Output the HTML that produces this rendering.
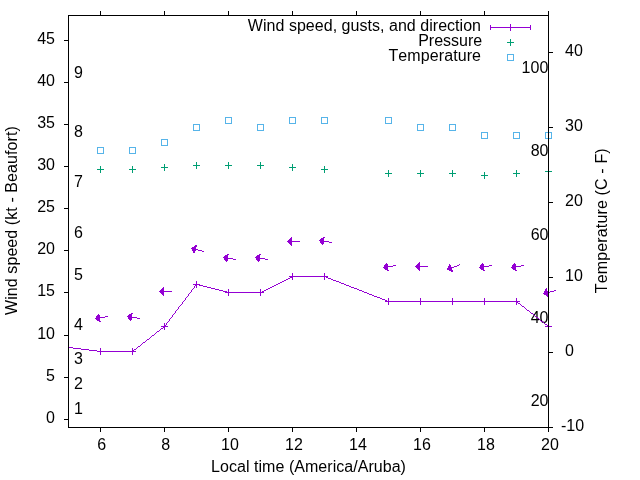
<!DOCTYPE html>
<html><head><meta charset="utf-8"><title>Wind speed, gusts, and direction</title>
<style>html,body{margin:0;padding:0;background:#fff;overflow:hidden}svg{display:block;will-change:transform}text{font-family:"Liberation Sans",Arial,sans-serif;font-size:16px;fill:#000;font-kerning:none}</style></head><body>
<svg width="640" height="480" viewBox="0 0 640 480">
<rect width="640" height="480" fill="#fff"/>
<g>
<text x="74" y="414.0">1</text>
<text x="74" y="389.0">2</text>
<text x="74" y="364.0">3</text>
<text x="74" y="330.0">4</text>
<text x="74" y="280.0">5</text>
<text x="74" y="238.0">6</text>
<text x="74" y="187.0">7</text>
<text x="74" y="137.0">8</text>
<text x="74" y="78.0">9</text>
<text x="548.5" y="405.9" text-anchor="end">20</text>
<text x="548.5" y="322.9" text-anchor="end">40</text>
<text x="548.5" y="239.9" text-anchor="end">60</text>
<text x="548.5" y="155.9" text-anchor="end">80</text>
<text x="548.3" y="72.9" text-anchor="end">100</text>
</g>
<g shape-rendering="crispEdges" fill="none" stroke-width="1">
<g stroke="#9400D3">
<path d="M68 347.5h5M73 348.5h8M81 349.5h8M89 350.5h8M97 351.5h4M100 351.5h33M132 351.5h1M133 350.5h1M134 349.5h2M136 348.5h1M137 347.5h1M138 346.5h2M140 345.5h1M141 344.5h1M142 343.5h1M143 342.5h2M145 341.5h1M146 340.5h1M147 339.5h2M149 338.5h1M150 337.5h1M151 336.5h1M152 335.5h2M154 334.5h1M155 333.5h1M156 332.5h1M157 331.5h2M159 330.5h1M160 329.5h1M161 328.5h2M163 327.5h1M164 326.5h1M164.5 326v1M165.5 325v1M166.5 323v2M167.5 322v1M168.5 321v1M169.5 319v2M170.5 318v1M171.5 317v1M172.5 315v2M173.5 314v1M174.5 313v1M175.5 311v2M176.5 310v1M177.5 309v1M178.5 307v2M179.5 306v1M180.5 305v1M181.5 304v1M182.5 302v2M183.5 301v1M184.5 300v1M185.5 298v2M186.5 297v1M187.5 296v1M188.5 294v2M189.5 293v1M190.5 292v1M191.5 290v2M192.5 289v1M193.5 288v1M194.5 286v2M195.5 285v1M196.5 284v1M196 284.5h3M199 285.5h4M203 286.5h4M207 287.5h4M211 288.5h4M215 289.5h4M219 290.5h4M223 291.5h4M227 292.5h2M228 292.5h33M260 292.5h2M262 291.5h2M264 290.5h2M266 289.5h2M268 288.5h2M270 287.5h2M272 286.5h2M274 285.5h2M276 284.5h2M278 283.5h2M280 282.5h2M282 281.5h2M284 280.5h2M286 279.5h2M288 278.5h2M290 277.5h2M292 276.5h1M292 276.5h33M324 276.5h2M326 277.5h2M328 278.5h3M331 279.5h2M333 280.5h3M336 281.5h3M339 282.5h2M341 283.5h3M344 284.5h2M346 285.5h3M349 286.5h2M351 287.5h3M354 288.5h3M357 289.5h2M359 290.5h3M362 291.5h2M364 292.5h3M367 293.5h2M369 294.5h3M372 295.5h2M374 296.5h3M377 297.5h3M380 298.5h2M382 299.5h3M385 300.5h2M387 301.5h2M388 301.5h33M420 301.5h33M452 301.5h33M484 301.5h33M516 301.5h1M517 302.5h1M518 303.5h2M520 304.5h1M521 305.5h1M522 306.5h2M524 307.5h1M525 308.5h1M526 309.5h1M527 310.5h2M529 311.5h1M530 312.5h1M531 313.5h2M533 314.5h1M534 315.5h1M535 316.5h1M536 317.5h2M538 318.5h1M539 319.5h1M540 320.5h1M541 321.5h2M543 322.5h1M544 323.5h1M545 324.5h2M547 325.5h1M548 326.5h1M97.0 351.5h7M100.5 348.0v7M129.0 351.5h7M132.5 348.0v7M161.0 326.5h7M164.5 323.0v7M193.0 284.5h7M196.5 281.0v7M225.0 292.5h7M228.5 289.0v7M257.0 292.5h7M260.5 289.0v7M289.0 276.5h7M292.5 273.0v7M321.0 276.5h7M324.5 273.0v7M385.0 301.5h7M388.5 298.0v7M417.0 301.5h7M420.5 298.0v7M449.0 301.5h7M452.5 298.0v7M481.0 301.5h7M484.5 298.0v7M513.0 301.5h7M516.5 298.0v7M545.0 326.5h7M548.5 323.0v7"/>
<path d="M490 27.5h41M490.5 25v5M530.5 25v5M510.5 24v7"/>
<path d="M95 318.5h4M99 317.5h6M105 316.5h3M127 316.5h4M131 317.5h6M137 318.5h3M159 291.5h13M191 248.5h3M194 249.5h4M198 250.5h4M202 251.5h2M223 257.5h4M227 258.5h6M233 259.5h3M255 257.5h4M259 258.5h6M265 259.5h3M287 241.5h13M319 240.5h4M323 241.5h6M329 242.5h3M383 267.5h4M387 266.5h6M393 265.5h3M415 266.5h13M447 269.5h2M449 268.5h2M451 267.5h3M454 266.5h3M457 265.5h2M459 264.5h1M479 267.5h4M483 266.5h6M489 265.5h3M511 267.5h4M515 266.5h6M521 265.5h3M543 293.5h3M546 292.5h4M550 291.5h4M554 290.5h2"/>
</g>
<g fill="#9400D3" stroke="#9400D3" stroke-width="1" stroke-linejoin="bevel">
<path d="M95.50 318.50L98.85 313.94L100.06 321.85Z"/>
<path d="M127.50 316.50L132.06 313.15L130.85 321.06Z"/>
<path d="M159.50 291.50L163.50 287.50L163.50 295.50Z"/>
<path d="M191.50 248.50L196.30 245.50L194.50 253.30Z"/>
<path d="M223.50 257.50L228.06 254.15L226.85 262.06Z"/>
<path d="M255.50 257.50L260.06 254.15L258.85 262.06Z"/>
<path d="M287.50 241.50L291.50 237.50L291.50 245.50Z"/>
<path d="M319.50 240.50L324.06 237.15L322.85 245.06Z"/>
<path d="M383.50 267.50L386.85 262.94L388.06 270.85Z"/>
<path d="M415.50 266.50L419.50 262.50L419.50 270.50Z"/>
<path d="M447.50 269.50L449.80 264.33L452.67 271.80Z"/>
<path d="M479.50 267.50L482.85 262.94L484.06 270.85Z"/>
<path d="M511.50 267.50L514.85 262.94L516.06 270.85Z"/>
<path d="M543.50 293.50L546.50 288.70L548.30 296.50Z"/>
</g>
<path stroke="#009E73" d="M97.0 169.5h7M100.5 166.0v7M129.0 169.5h7M132.5 166.0v7M161.0 167.5h7M164.5 164.0v7M193.0 165.5h7M196.5 162.0v7M225.0 165.5h7M228.5 162.0v7M257.0 165.5h7M260.5 162.0v7M289.0 167.5h7M292.5 164.0v7M321.0 169.5h7M324.5 166.0v7M385.0 173.5h7M388.5 170.0v7M417.0 173.5h7M420.5 170.0v7M449.0 173.5h7M452.5 170.0v7M481.0 175.5h7M484.5 172.0v7M513.0 173.5h7M516.5 170.0v7M545.0 171.5h7M548.5 168.0v7M507 42.5h7M510.5 39v7"/>
<path stroke="#56B4E9" d="M97.5 147.5h6v6h-6zM129.5 147.5h6v6h-6zM161.5 139.5h6v6h-6zM193.5 124.5h6v6h-6zM225.5 117.5h6v6h-6zM257.5 124.5h6v6h-6zM289.5 117.5h6v6h-6zM321.5 117.5h6v6h-6zM385.5 117.5h6v6h-6zM417.5 124.5h6v6h-6zM449.5 124.5h6v6h-6zM481.5 132.5h6v6h-6zM513.5 132.5h6v6h-6zM545.5 132.5h6v6h-6zM507.5 54.5h6v6h-6z"/>
<path stroke="#000" d="M68.5 15.5h480v412h-480zM64 419.5h4M64 377.5h4M64 335.5h4M64 292.5h4M64 250.5h4M64 208.5h4M64 166.5h4M64 124.5h4M64 82.5h4M64 40.5h4M549 427.5h4M549 352.5h4M549 277.5h4M549 202.5h4M549 127.5h4M549 52.5h4M100.5 428v4M100.5 11v4M164.5 428v4M164.5 11v4M228.5 428v4M228.5 11v4M292.5 428v4M292.5 11v4M356.5 428v4M356.5 11v4M420.5 428v4M420.5 11v4M484.5 428v4M484.5 11v4M548.5 428v4M548.5 11v4"/>
</g>
<g>
<text x="55" y="423.0" text-anchor="end">0</text>
<text x="55" y="381.0" text-anchor="end">5</text>
<text x="55" y="339.0" text-anchor="end">10</text>
<text x="55" y="296.0" text-anchor="end">15</text>
<text x="55" y="254.0" text-anchor="end">20</text>
<text x="55" y="212.0" text-anchor="end">25</text>
<text x="55" y="170.0" text-anchor="end">30</text>
<text x="55" y="128.0" text-anchor="end">35</text>
<text x="55" y="86.0" text-anchor="end">40</text>
<text x="55" y="44.0" text-anchor="end">45</text>
<text x="561" y="431.0">-10</text>
<text x="565" y="356.0">0</text>
<text x="565" y="281.0">10</text>
<text x="565" y="206.0">20</text>
<text x="565" y="131.0">30</text>
<text x="565" y="56.0">40</text>
<text x="101.6" y="450" text-anchor="middle">6</text>
<text x="165.6" y="450" text-anchor="middle">8</text>
<text x="230.0" y="450" text-anchor="middle">10</text>
<text x="294.0" y="450" text-anchor="middle">12</text>
<text x="358.0" y="450" text-anchor="middle">14</text>
<text x="422.0" y="450" text-anchor="middle">16</text>
<text x="486.0" y="450" text-anchor="middle">18</text>
<text x="550.0" y="450" text-anchor="middle">20</text>
<text x="308.5" y="472" text-anchor="middle" textLength="194.8" lengthAdjust="spacing">Local time (America/Aruba)</text>
<text transform="translate(16.5,220.6) rotate(-90)" text-anchor="middle" textLength="188.8" lengthAdjust="spacing">Wind speed (kt - Beaufort)</text>
<text transform="translate(607,220.8) rotate(-90)" text-anchor="middle" textLength="145" lengthAdjust="spacing">Temperature (C - F)</text>
<text x="481" y="30.5" text-anchor="end" textLength="233.2" lengthAdjust="spacing">Wind speed, gusts, and direction</text>
<text x="482.2" y="45.5" text-anchor="end">Pressure</text>
<text x="481" y="60.5" text-anchor="end" textLength="92.5" lengthAdjust="spacing">Temperature</text>
</g>
</svg></body></html>
